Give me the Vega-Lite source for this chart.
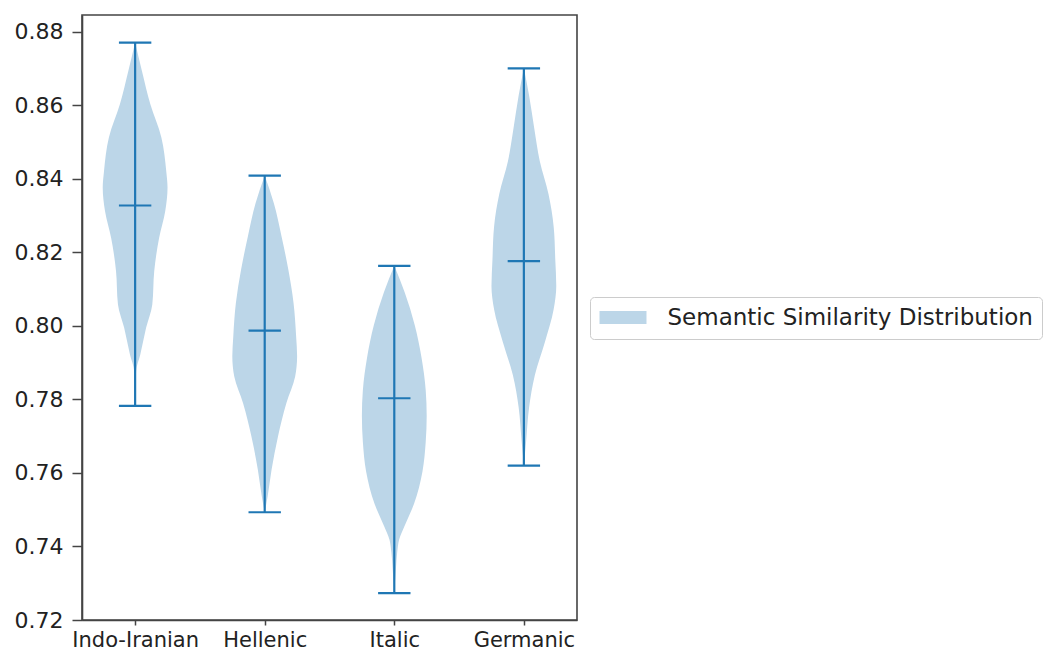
{
  "$schema": "https://vega.github.io/schema/vega-lite/v6.json",
  "autosize": {"type": "none"},
  "width": 495,
  "height": 605,
  "padding": {"left": 82, "top": 15, "right": 470, "bottom": 33},
  "background": "white",
  "config": {
    "font": "DejaVu Sans",
    "view": {"stroke": "#444", "strokeWidth": 1.6},
    "axis": {
      "labelFont": "DejaVu Sans",
      "labelFontSize": 22,
      "labelColor": "#222",
      "domainColor": "#444",
      "domainWidth": 1.6,
      "tickColor": "#444",
      "tickWidth": 1.5,
      "grid": false,
      "title": null
    }
  },
  "datasets": {
    "violin": [
      {"group": "Indo-Iranian", "value": 0.8770, "density": 0.0},
      {"group": "Indo-Iranian", "value": 0.8693, "density": 0.21},
      {"group": "Indo-Iranian", "value": 0.8602, "density": 0.47},
      {"group": "Indo-Iranian", "value": 0.8512, "density": 0.81},
      {"group": "Indo-Iranian", "value": 0.8421, "density": 0.96},
      {"group": "Indo-Iranian", "value": 0.8376, "density": 1.0},
      {"group": "Indo-Iranian", "value": 0.8312, "density": 0.93},
      {"group": "Indo-Iranian", "value": 0.8239, "density": 0.74},
      {"group": "Indo-Iranian", "value": 0.8149, "density": 0.59},
      {"group": "Indo-Iranian", "value": 0.8058, "density": 0.53},
      {"group": "Indo-Iranian", "value": 0.7995, "density": 0.34},
      {"group": "Indo-Iranian", "value": 0.7922, "density": 0.16},
      {"group": "Indo-Iranian", "value": 0.7877, "density": 0.03},
      {"group": "Indo-Iranian", "value": 0.7782, "density": 0.0},
      {"group": "Hellenic", "value": 0.8408, "density": 0.0},
      {"group": "Hellenic", "value": 0.8334, "density": 0.28},
      {"group": "Hellenic", "value": 0.8243, "density": 0.52},
      {"group": "Hellenic", "value": 0.8152, "density": 0.73},
      {"group": "Hellenic", "value": 0.8062, "density": 0.89},
      {"group": "Hellenic", "value": 0.7971, "density": 0.97},
      {"group": "Hellenic", "value": 0.7917, "density": 1.0},
      {"group": "Hellenic", "value": 0.7862, "density": 0.94},
      {"group": "Hellenic", "value": 0.7790, "density": 0.67},
      {"group": "Hellenic", "value": 0.7699, "density": 0.41},
      {"group": "Hellenic", "value": 0.7608, "density": 0.21},
      {"group": "Hellenic", "value": 0.7536, "density": 0.09},
      {"group": "Hellenic", "value": 0.7493, "density": 0.0},
      {"group": "Italic", "value": 0.8163, "density": 0.0},
      {"group": "Italic", "value": 0.8091, "density": 0.32},
      {"group": "Italic", "value": 0.8002, "density": 0.63},
      {"group": "Italic", "value": 0.7914, "density": 0.84},
      {"group": "Italic", "value": 0.7825, "density": 0.97},
      {"group": "Italic", "value": 0.7755, "density": 1.0},
      {"group": "Italic", "value": 0.7684, "density": 0.97},
      {"group": "Italic", "value": 0.7604, "density": 0.87},
      {"group": "Italic", "value": 0.7516, "density": 0.61},
      {"group": "Italic", "value": 0.7454, "density": 0.31},
      {"group": "Italic", "value": 0.7419, "density": 0.15},
      {"group": "Italic", "value": 0.7384, "density": 0.09},
      {"group": "Italic", "value": 0.7339, "density": 0.05},
      {"group": "Italic", "value": 0.7273, "density": 0.0},
      {"group": "Germanic", "value": 0.8700, "density": 0.0},
      {"group": "Germanic", "value": 0.8627, "density": 0.16},
      {"group": "Germanic", "value": 0.8537, "density": 0.32},
      {"group": "Germanic", "value": 0.8448, "density": 0.49},
      {"group": "Germanic", "value": 0.8358, "density": 0.76},
      {"group": "Germanic", "value": 0.8269, "density": 0.92},
      {"group": "Germanic", "value": 0.8179, "density": 0.97},
      {"group": "Germanic", "value": 0.8108, "density": 1.0},
      {"group": "Germanic", "value": 0.8045, "density": 0.92},
      {"group": "Germanic", "value": 0.7956, "density": 0.65},
      {"group": "Germanic", "value": 0.7866, "density": 0.34},
      {"group": "Germanic", "value": 0.7777, "density": 0.16},
      {"group": "Germanic", "value": 0.7687, "density": 0.07},
      {"group": "Germanic", "value": 0.7620, "density": 0.0}
    ],
    "stats": [
      {"group": "Indo-Iranian", "min": 0.7782, "mean": 0.8327, "max": 0.8770},
      {"group": "Hellenic", "min": 0.7493, "mean": 0.7987, "max": 0.8408},
      {"group": "Italic", "min": 0.7273, "mean": 0.7803, "max": 0.8163},
      {"group": "Germanic", "min": 0.7620, "mean": 0.8176, "max": 0.8700}
    ]
  },
  "encoding": {
    "x": {
      "type": "quantitative",
      "scale": {"domain": [0.59, 4.41], "nice": false, "zero": false},
      "axis": {
        "values": [1, 2, 3, 4],
        "labelExpr": "['Indo-Iranian','Hellenic','Italic','Germanic'][datum.value - 1]",
        "labelFontSize": 21,
        "tickSize": 5,
        "labelPadding": 4,
        "labelFlush": false,
        "labelOverlap": false
      }
    },
    "y": {
      "type": "quantitative",
      "scale": {"domain": [0.72, 0.8845], "nice": false, "zero": false},
      "axis": {
        "values": [0.72, 0.74, 0.76, 0.78, 0.80, 0.82, 0.84, 0.86, 0.88],
        "format": ".2f",
        "tickSize": 10,
        "labelPadding": 9,
        "labelFlush": false
      }
    }
  },
  "layer": [
    {
      "data": {"name": "violin"},
      "transform": [
        {"calculate": "indexof(['Indo-Iranian','Hellenic','Italic','Germanic'], datum.group) + 1", "as": "idx"},
        {"calculate": "datum.idx - 0.25 * datum.density", "as": "lo"},
        {"calculate": "datum.idx + 0.25 * datum.density", "as": "hi"}
      ],
      "mark": {"type": "area", "orient": "horizontal", "interpolate": "monotone", "fillOpacity": 1},
      "encoding": {
        "x": {"field": "lo"},
        "x2": {"field": "hi"},
        "y": {"field": "value"},
        "detail": {"field": "group"},
        "color": {
          "datum": "Semantic Similarity Distribution",
          "type": "nominal",
          "scale": {"range": ["#bcd6e8"]},
          "legend": {
            "title": null,
            "orient": "none",
            "legendX": 508,
            "legendY": 282,
            "symbolType": "M-2.136,-0.59H2.136V0.59H-2.136Z",
            "symbolSize": 484,
            "symbolOffset": 12.5,
            "symbolStrokeWidth": 0,
            "labelFontSize": 23,
            "labelFont": "DejaVu Sans",
            "labelColor": "#222",
            "labelLimit": 600,
            "labelOffset": 33,
            "padding": 9,
            "strokeColor": "#cccccc",
            "fillColor": "white",
            "cornerRadius": 4
          }
        }
      }
    },
    {
      "data": {"name": "stats"},
      "transform": [
        {"calculate": "indexof(['Indo-Iranian','Hellenic','Italic','Germanic'], datum.group) + 1", "as": "idx"}
      ],
      "mark": {"type": "rule", "color": "#1f77b4", "strokeWidth": 2.2},
      "encoding": {
        "x": {"field": "idx"},
        "y": {"field": "min"},
        "y2": {"field": "max"}
      }
    },
    {
      "data": {"name": "stats"},
      "transform": [
        {"fold": ["min", "mean", "max"], "as": ["stat", "v"]},
        {"calculate": "indexof(['Indo-Iranian','Hellenic','Italic','Germanic'], datum.group) + 1", "as": "idx"},
        {"calculate": "datum.idx - 0.125", "as": "c0"},
        {"calculate": "datum.idx + 0.125", "as": "c1"}
      ],
      "mark": {"type": "rule", "color": "#1f77b4", "strokeWidth": 2.2},
      "encoding": {
        "x": {"field": "c0"},
        "x2": {"field": "c1"},
        "y": {"field": "v"}
      }
    }
  ]
}
